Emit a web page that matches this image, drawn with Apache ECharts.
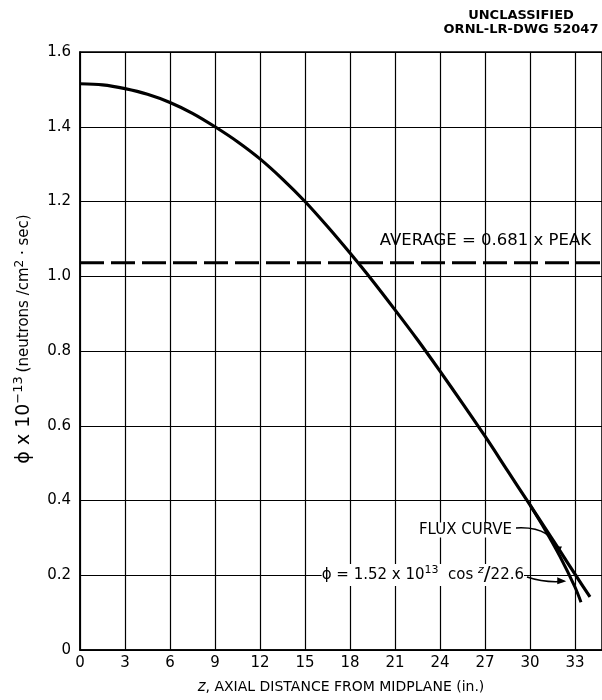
<!DOCTYPE html>
<html>
<head>
<meta charset="utf-8">
<script src="https://cdn.jsdelivr.net/npm/echarts@6/dist/echarts.min.js"></script>
<style>html,body{margin:0;padding:0;background:#fff}#c{width:602px;height:700px}</style>
</head>
<body>
<div id="c"></div>
<script>
// Data
var zFlux   = [0, 1.5, 3, 4.5, 6, 7.5, 9, 10.5, 12, 13.5, 15, 16.5, 18, 19.5, 21, 22.5, 24, 25.5, 27, 28.5, 30, 31, 32, 33, 34];
var phiFlux = [1.515, 1.512, 1.502, 1.487, 1.465, 1.436, 1.400, 1.360, 1.314, 1.260, 1.200, 1.133, 1.062, 0.988, 0.910, 0.830, 0.746, 0.660, 0.572, 0.480, 0.388, 0.327, 0.265, 0.203, 0.142];
var zCos    = [30, 31, 32, 33, 33.4];
var phiCos  = [0.388, 0.322, 0.250, 0.168, 0.128];
var avgZ    = [0, 34.8];
var avgPhi  = [1.036, 1.036];
var xTicks  = [0, 3, 6, 9, 12, 15, 18, 21, 24, 27, 30, 33];
var yTicks  = [0, 0.2, 0.4, 0.6, 0.8, 1.0, 1.2, 1.4, 1.6];

function pairs(a, b) { return a.map(function (v, i) { return [v, b[i]]; }); }

var FONT = 'DejaVu Sans';
var chart = echarts.init(document.getElementById('c'), null, {renderer: 'canvas'});
chart.setOption({
  animation: false,
  backgroundColor: '#fff',
  grid: {left: 80, right: 0, top: 52, bottom: 49, show: true, borderColor: '#000', borderWidth: 1.5},
  xAxis: {
    type: 'value', min: 0, max: 34.8, interval: 3,
    axisLine: {show: true, lineStyle: {color: '#000', width: 1.5}},
    axisTick: {show: false},
    splitLine: {show: true, lineStyle: {color: '#000', width: 1.2}},
    axisLabel: {showMaxLabel: false, color: '#000', fontFamily: FONT, fontSize: 15, margin: 6,
      formatter: function (v) { return xTicks.indexOf(v) >= 0 ? String(v) : ''; }},
    name: '{i|z}, AXIAL DISTANCE FROM MIDPLANE (in.)',
    nameLocation: 'middle', nameGap: 30,
    nameTextStyle: {color: '#000', fontFamily: FONT, fontSize: 14,
      rich: {i: {fontStyle: 'italic', fontFamily: FONT, fontSize: 15, color: '#000'}}}
  },
  yAxis: {
    type: 'value', min: 0, max: 1.6, interval: 0.2,
    axisLine: {show: true, lineStyle: {color: '#000', width: 1.5}},
    axisTick: {show: false},
    splitLine: {show: true, lineStyle: {color: '#000', width: 1.2}},
    axisLabel: {color: '#000', fontFamily: FONT, fontSize: 15, margin: 9,
      formatter: function (v) { return v === 0 ? '0' : v.toFixed(1); }},
    name: '{b|ϕ x 10}{sup|−13} {s|(neutrons /cm}{sup2|2}{s| · sec)}',
    nameLocation: 'middle', nameRotate: 90, nameGap: 44,
    nameTextStyle: {color: '#000', fontFamily: FONT, padding: [0, 0, 0, 24],
      rich: {
        b: {fontSize: 19, fontFamily: FONT, color: '#000', lineHeight: 24},
        sup: {fontSize: 13, fontFamily: FONT, color: '#000', padding: [0, 0, 11, 0], lineHeight: 24},
        s: {fontSize: 15, fontFamily: FONT, color: '#000', lineHeight: 24},
        sup2: {fontSize: 12, fontFamily: FONT, color: '#000', padding: [0, 0, 9, 0], lineHeight: 24}
      }}
  },
  series: [
    {type: 'line', name: 'average', data: pairs(avgZ, avgPhi), showSymbol: false, symbol: 'none',
      lineStyle: {color: '#000', width: 3, type: [24, 7]}, z: 3},
    {type: 'line', name: 'flux', data: pairs(zFlux, phiFlux), smooth: 0.3, showSymbol: false, symbol: 'none',
      lineStyle: {color: '#000', width: 3.2}, z: 4},
    {type: 'line', name: 'cos', data: pairs(zCos, phiCos), smooth: 0.3, showSymbol: false, symbol: 'none',
      lineStyle: {color: '#000', width: 3}, z: 4}
  ]
});

function px(x, y) { return chart.convertToPixel({gridIndex: 0}, [x, y]); }
var flx = px(32.0, 0.29);
var csx = px(32.55, 0.2);
chart.setOption({
  graphic: [
    {type: 'text', style: {text: 'UNCLASSIFIED', x: 521, y: 16, align: 'center', verticalAlign: 'middle',
      font: 'bold 13px "DejaVu Sans"', fill: '#000'}},
    {type: 'text', style: {text: 'ORNL-LR-DWG 52047', x: 521, y: 30, align: 'center', verticalAlign: 'middle',
      font: 'bold 13px "DejaVu Sans"', fill: '#000'}},
    {type: 'text', style: {text: 'AVERAGE = 0.681 x PEAK', x: 591, y: 241, align: 'right', verticalAlign: 'middle',
      font: '16.5px "DejaVu Sans"', fill: '#000'}},
    {type: 'text', style: {text: 'FLUX CURVE', x: 512, y: 530, align: 'right', verticalAlign: 'middle',
      font: '15px "DejaVu Sans"', fill: '#000', backgroundColor: '#fff'}},
    {type: 'text', style: {
      text: '{a|ϕ = 1.52 x 10}{p|13}{a|  cos }{pi|z}{q|/}{a|22.6}', x: 524, y: 575, align: 'right', verticalAlign: 'middle',
      backgroundColor: '#fff',
      rich: {
        a: {font: '15px "DejaVu Sans"', fill: '#000', lineHeight: 22},
        p: {font: '11px "DejaVu Sans"', fill: '#000', padding: [0, 0, 9, 0], lineHeight: 22},
        pi: {font: 'italic 11px "DejaVu Sans"', fill: '#000', padding: [0, 0, 9, 0], lineHeight: 22},
        q: {font: '20px "DejaVu Sans"', fill: '#000', lineHeight: 22}
      }}},
    {type: 'bezierCurve', shape: {x1: 516, y1: 528, x2: flx[0] - 2, y2: flx[1] + 10, cpx1: 552, cpy1: 526},
      style: {stroke: '#000', lineWidth: 1.5, fill: null}, z: 10},
    {type: 'polygon', shape: {points: [[flx[0] - 6, flx[1] + 5], [flx[0] + 2, flx[1] + 5], [flx[0] - 2, flx[1] + 13]]},
      style: {fill: '#000'}, z: 10},
    {type: 'bezierCurve', shape: {x1: 527, y1: 577, x2: csx[0] - 4, y2: csx[1] + 6, cpx1: 545, cpy1: 583},
      style: {stroke: '#000', lineWidth: 1.5, fill: null}, z: 10},
    {type: 'polygon', shape: {points: [[csx[0] - 11, csx[1] + 2], [csx[0] - 11, csx[1] + 9], [csx[0] - 2, csx[1] + 6]]},
      style: {fill: '#000'}, z: 10}
  ]
});
</script>
</body>
</html>
